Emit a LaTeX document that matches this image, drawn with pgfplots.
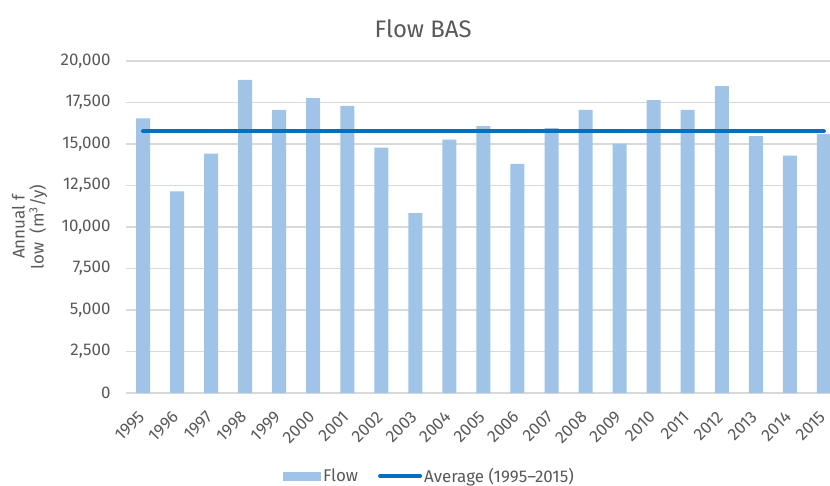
\documentclass[border=0pt]{standalone}
\usepackage{fontspec}
\setmainfont{Fira Sans}
\usepackage{pgfplots}
\pgfplotsset{compat=1.18}
\definecolor{barblue}{HTML}{9FC4E7}
\definecolor{avgblue}{HTML}{0070C0}
\definecolor{txtgray}{HTML}{595959}
\definecolor{gridgray}{HTML}{D9D9D9}
\begin{document}
\begin{tikzpicture}
\useasboundingbox (-126bp,-93bp) rectangle (704bp,393bp);
\begin{axis}[
  name=ax,
  at={(0,0)}, anchor=south west,
  scale only axis,
  width=704bp, height=332bp,
  xmin=-0.5, xmax=20.18,
  ymin=0, ymax=20000,
  axis line style={draw=none},
  tick style={draw=none},
  ymajorgrids,
  major grid style={draw=gridgray, line width=1.5bp},
  ytick={0,2500,...,20000},
  scaled y ticks=false,
  /pgf/number format/assume math mode=true,
  /pgf/number format/fixed,
  /pgf/number format/1000 sep={,},
  y tick label style={font=\fontsize{17}{20}\selectfont, text=txtgray, xshift=-12bp},
  xtick={0,...,20},
  xticklabels={1995,1996,1997,1998,1999,2000,2001,2002,2003,2004,2005,2006,2007,2008,2009,2010,2011,2012,2013,2014,2015},
  x tick label style={yshift=-21bp, xshift=-1.5bp, rotate=45, anchor=east, inner sep=0bp, font=\fontsize{17}{18}\selectfont, text=txtgray},
  ylabel={Annual f\\low\ \ (m\textsuperscript{3}/y)},
  ylabel style={font=\fontsize{17}{19}\selectfont, text=txtgray, align=center, at={(axis description cs:-0.137,0.5)}, anchor=center},
  title={Flow BAS},
  title style={font=\fontsize{24}{28}\selectfont, text=txtgray, at={(0.422,1)}, yshift=14bp},
  legend style={draw=none, at={(0.431,-0.25)}, anchor=center, legend columns=2,
    font=\fontsize{17}{20}\selectfont, text=txtgray,
    /tikz/every even column/.append style={column sep=18bp}},
  legend cell align=left,
  clip=true,
]
\addplot[ybar, bar width=14bp, fill=barblue, draw=none,
  legend image code/.code={\fill[barblue] (0bp,-4.5bp) rectangle (38bp,4.5bp);}] coordinates {
  (0,16550) (1,12150) (2,14420) (3,18860) (4,17050) (5,17770) (6,17290)
  (7,14780) (8,10840) (9,15260) (10,16080) (11,13810) (12,15960) (13,17050)
  (14,15020) (15,17650) (16,17050) (17,18490) (18,15480) (19,14300) (20,15600)
};
\addlegendentry{Flow}
\addplot[color=avgblue, line width=4bp, line cap=round,
  legend image code/.code={\draw[avgblue, line width=4bp, line cap=round] (0bp,0bp) -- (40bp,0bp);}] coordinates {(0,15760) (20,15760)};
\addlegendentry{Average (1995--2015)}
\end{axis}
\end{tikzpicture}
\end{document}
